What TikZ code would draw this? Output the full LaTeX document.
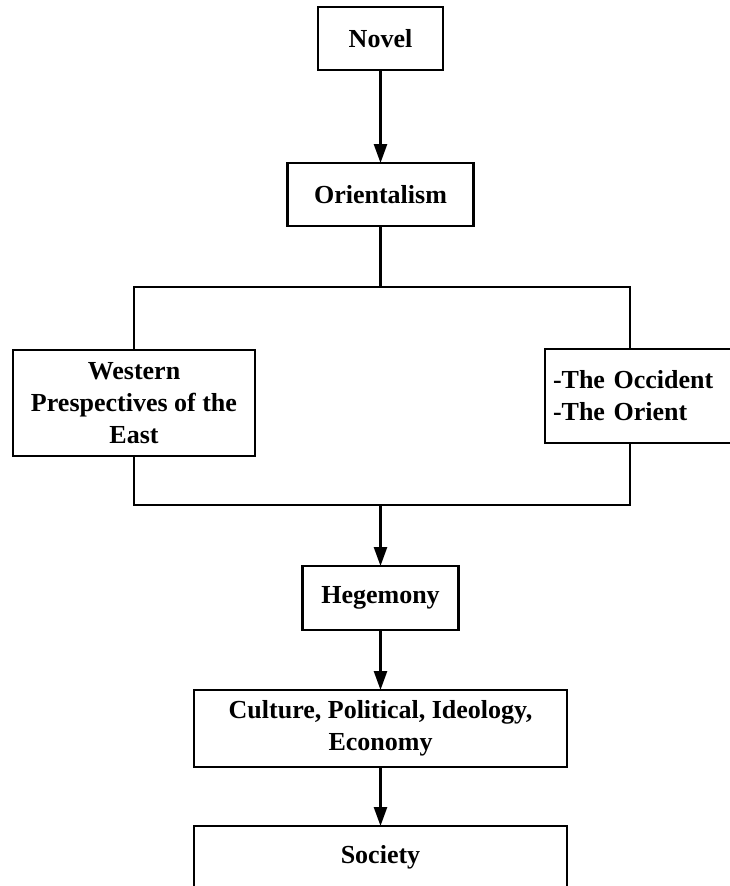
\documentclass[tikz,border=0pt]{standalone}
\usepackage{fontspec}
\setmainfont{Liberation Serif}
\usetikzlibrary{
    arrows.meta,
    positioning
}

\begin{document}
\begin{tikzpicture}[
        x=1pt, y=1pt,
        node distance=60pt,
        block/.style={
            rectangle,
            draw,
            line width=2.6pt,
            align=center,
            font=\fontsize{26}{32}\selectfont\bfseries,
            inner sep=0pt,
            outer sep=0pt,
            minimum height=63pt
        },
        line/.style={
            -{Triangle[length=19pt,width=13pt]},
            line width=2.6pt
        },
        link/.style={
            line width=2.6pt
        }
    ]
    \useasboundingbox (0,0) rectangle (730,-886);
    \clip (0,0) rectangle (730,-886);

    \node[block, minimum width=125pt] (novel) at (380.5,-38.5)
        {Novel};

    \node[block, below=93pt of novel, minimum width=186pt] (orient)
        {Orientalism};

    \coordinate[below=61pt of orient] (split);

    \node[block, minimum width=242pt, minimum height=106pt] (west) at (134,-403)
        {Western\\Prespectives of the\\East};

    \node[block, align=left, text width=170pt, inner xsep=8pt,
          minimum height=94pt] (occident) at (638,-396)
        {-The Occident\\-The Orient};

    \coordinate[below=218pt of split] (join);

    \node[block, below=61pt of join, minimum width=156pt, minimum height=64pt] (hegemony)
        {Hegemony};

    \node[block, below=of hegemony, minimum width=373pt, minimum height=77pt] (culture)
        {Culture, Political, Ideology,\\Economy};

    \node[block, below=59pt of culture, minimum width=373pt, minimum height=62pt] (society)
        {Society};

    \draw[line] (novel) -- (orient);
    \draw[link] (orient) -- (split);
    \draw[link] (split) -| (west.north);
    \draw[link] (split) -| ([xshift=-8pt]occident.north);
    \draw[link] (west.south) |- (join);
    \draw[link] ([xshift=-8pt]occident.south) |- (join);
    \draw[line] (join) -- (hegemony);
    \draw[line] (hegemony) -- (culture);
    \draw[line] (culture) -- (society);

\end{tikzpicture}
\end{document}
